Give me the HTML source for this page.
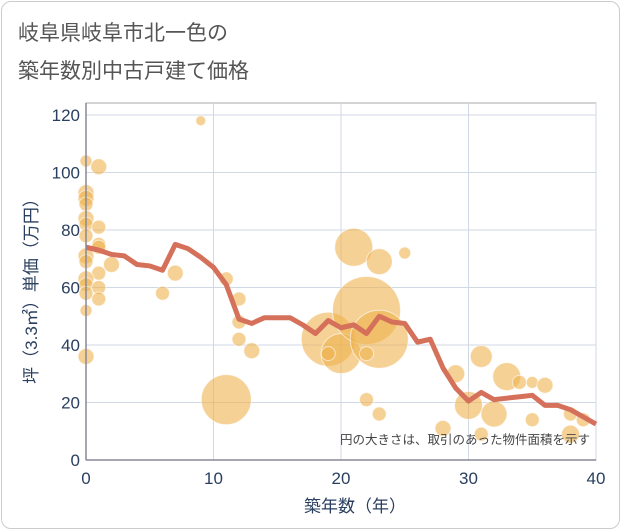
<!DOCTYPE html>
<html><head><meta charset="utf-8"><style>
body{margin:0;background:#fff;font-family:"Liberation Sans","Noto Sans CJK JP",sans-serif}
#card{position:absolute;left:1px;top:1px;width:617px;height:526px;border:1px solid #ccc;border-radius:10px;background:#fff}
</style></head><body>
<div id="card"></div>
<svg id="c" width="621" height="530" style="position:absolute;left:0;top:0">
<text x="18" y="40" font-size="21" fill="#555">岐阜県岐阜市北一色の</text>
<text x="18" y="78" font-size="21" fill="#555">築年数別中古戸建て価格</text>
<g id="grid"></g><g id="bubbles"></g><g id="line"></g><g id="axes"></g>
<text x="590" y="444" font-size="12.5" fill="#444" text-anchor="end">円の大きさは、取引のあった物件面積を示す</text>
<text x="355" y="512" font-size="17" fill="#2a3f5f" text-anchor="middle">築年数（年）</text>
<text transform="translate(37,287) rotate(-90)" font-size="17" fill="#2a3f5f" text-anchor="middle">坪（3.3㎡）単価（万円）</text>
</svg>
<script>
const xTicks=[0,10,20,30,40];
const yTicks=[0,20,40,60,80,100,120];
const lineAges=[0,1,2,3,4,5,6,7,8,9,10,11,12,13,14,15,16,17,18,19,20,21,22,23,24,25,26,27,28,29,30,31,32,33,34,35,36,37,38,39,40];
const linePrices=[74,73,71.5,71,68,67.5,66,75,73.5,70.5,67,61,49,47.5,49.5,49.5,49.5,47,44,48.5,46,47,44,50,48,47.5,41,42,32,25,20.5,23.5,21,21.5,22,22.5,19,19,17.5,15,12.5];
const bubbleAges=[0,1,0,0,0,0,0,1,0,1,1,0,0,2,1,0,0,1,0,1,0,0,6,7,9,11,12,12,12,13,11,19,20,19,21,22,23,25,23,22,22,23,28,29,30,31,31,32,33,34,35,36,35,38,38,39];
const bubblePrices=[104,102,93,91,89,84,82,81,78,75,74,71,69,68,65,63,61,60,58,56,52,36,58,65,118,63,56,48,42,38,21,42,37,37,74,52,69,72,42,37,21,16,11,30,19,36,9,16,29,27,27,26,14,16,9,14];
const bubbleSizes=[6,8,8,8,7,8,7,7,7,7,7,8,7,8,7,8,7,7,7,7,6,8,7,8,5,7,7,7,7,8,25,27,20,7,19,34,13,6,29,7,7,7,8,9,14,11,7,13,14,7,6,8,7,7,9,7];
const X0=86,X1=596,Y0=460,Y1=115;
const xs=v=>X0+(X1-X0)*v/40, ys=v=>Y0-(Y0-Y1)*v/120;
const NS="http://www.w3.org/2000/svg";
function mk(t,a,p){const e=document.createElementNS(NS,t);for(const k in a)e.setAttribute(k,a[k]);p.appendChild(e);return e;}
const g=document.getElementById('grid'),ax=document.getElementById('axes');
mk('rect',{x:X0,y:103,width:X1-X0,height:Y0-103,fill:'none',stroke:'#aaa'},g);
xTicks.forEach(t=>{const l=mk('line',{x1:xs(t),x2:xs(t),y1:103,y2:Y0,stroke:'#d0d8e4','stroke-width':1},g);


const tx=mk('text',{x:xs(t),y:484,'font-size':17,fill:'#2a3f5f','text-anchor':'middle'},ax);tx.textContent=t;

});
yTicks.forEach(t=>{const l=mk('line',{x1:X0,x2:X1,y1:ys(t),y2:ys(t),stroke:'#d0d8e4','stroke-width':1},g);


const tx=mk('text',{x:80,y:ys(t)+6,'font-size':17,fill:'#2a3f5f','text-anchor':'end'},ax);tx.textContent=t;

});
mk('line',{x1:X0,x2:X0,y1:103,y2:Y0,stroke:'#889',"stroke-width":1.5},ax);
mk('line',{x1:X0,x2:X1,y1:Y0,y2:Y0,stroke:'#889',"stroke-width":1.5},ax);
const b=document.getElementById('bubbles');
bubbleAges.forEach((a,i)=>{const c=mk('circle',{cx:xs(a),cy:ys(bubblePrices[i]),r:bubbleSizes[i],fill:'#efb24f','fill-opacity':0.6,stroke:'#fff','stroke-opacity':0.6},b);

});
const p=mk('polyline',{points:lineAges.map((a,i)=>xs(a)+','+ys(linePrices[i])).join(' '),fill:'none',stroke:'#d5705a','stroke-width':5,'stroke-linejoin':'round'},document.getElementById('line'));


</script>
</body></html>
